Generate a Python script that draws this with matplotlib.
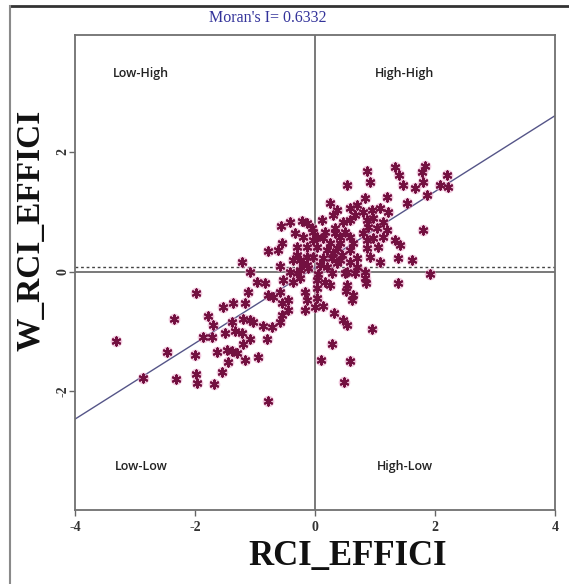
import matplotlib
matplotlib.use("Agg")
import matplotlib.pyplot as plt
from matplotlib.lines import Line2D

# ---- data ----
x_vals = [
    -3.32, -2.87, -2.35, -2.47, -2.32, -1.98, -1.78, -1.87, -1.72, -2.00, -1.98, -1.97, -1.68, -1.55,
    -1.70, -1.53, -1.37, -1.17, -1.38, -1.20, -1.50, -1.33, -1.22, -1.63, -1.47, -1.38, -1.30, -1.20,
    -1.17, -1.45, -1.12, -1.22,
    -1.08, -0.58, -1.08, -1.03, -0.87, -0.72, -1.08, -0.95, -0.80, -0.78, -0.97, -0.83, -0.78, -0.70,
    -0.58, -0.55, -0.45, -0.55, -0.45, -0.58, -0.17, -0.13, -0.17, -0.37, -0.25, -0.25, -0.12, -0.53,
    -0.42, -0.30,
    0.03, 0.17, 0.25, 0.53, 0.52, 0.63, 0.62, 0.03, 0.03, 0.00, 0.13, 0.32, 0.47, 0.53, 0.95, 0.28,
    0.10, 0.58, 0.48, 0.83, 0.85, 1.38, 1.92, 0.28, 0.50, 0.67, 0.05,
    -0.78, -0.62, -0.55, -0.57, -0.42, -0.22, -0.33, -0.30, -0.13, -0.05, -0.25, -0.13, -0.30, -0.37,
    -0.20, -0.13, -0.20, -0.03, -0.13, -0.03,
    0.87, 1.33, 1.83, 1.78, 0.92, 1.40, 1.47, 1.80, 1.67, 1.87, 2.20, 2.08, 2.22, 0.53, 0.83, 1.20,
    1.53, 0.25, 0.37, 0.58, 0.70, 0.67, 0.80, 0.95, 1.08, 1.22, 0.58, 0.87, 0.97, 1.13, 0.88, 1.03,
    1.20, 1.80, 0.47, 0.50, 0.12, 0.33, 0.42, 0.58, 0.63, 0.80, 0.87, 0.97, 1.13, 1.33, 1.42, 1.05,
    0.92, 1.08, 1.38, 1.62, 0.03, 0.13, 0.25, 0.03, 0.20, 0.37, 0.45, 0.28, 0.13, 0.08, 0.20, 0.37,
    0.58, 0.70, 0.53, 0.30, -0.03, 0.17, 0.33, 0.87, 0.30, 0.58, 0.42, 0.70, 0.83, 0.42,
]
y_vals = [
    -1.16, -1.78, -0.79, -1.34, -1.79, -0.36, -0.74, -1.09, -1.09, -1.39, -1.71, -1.86, -1.88, -1.68,
    -0.89, -0.59, -0.53, -0.53, -0.84, -0.79, -1.03, -0.99, -1.03, -1.34, -1.31, -1.33, -1.36, -1.21,
    -1.48, -1.51, -0.34, 0.16,
    -0.01, 0.09, -0.81, -0.84, -0.91, -0.93, -1.13, -1.43, -1.13, -2.16, -0.18, -0.19, -0.39, -0.43,
    -0.34, -0.53, -0.48, -0.73, -0.64, -0.84, -0.34, -0.48, -0.64, -0.18, -0.11, 0.03, 0.06, -0.14,
    -0.01, -0.03,
    -0.14, -0.18, -0.23, -0.23, -0.33, -0.39, -0.48, -0.28, -0.44, -0.59, -0.58, -0.69, -0.81, -0.89,
    -0.96, -1.21, -1.48, -1.49, -1.84, -0.11, -0.19, -0.19, -0.04, -0.03, -0.03, -0.03, -0.04,
    0.34, 0.36, 0.48, 0.76, 0.83, 0.84, 0.64, 0.41, 0.41, 0.73, 0.19, 0.24, 0.28, 0.19,
    0.14, 0.81, 0.58, 0.24, 0.11, 0.53,
    1.68, 1.74, 1.76, 1.66, 1.49, 1.61, 1.44, 1.49, 1.39, 1.28, 1.61, 1.44, 1.41, 1.44, 1.23, 1.24,
    1.14, 1.14, 1.03, 1.06, 1.11, 0.94, 0.99, 1.03, 1.06, 0.99, 0.86, 0.86, 0.89, 0.83, 0.74, 0.73,
    0.69, 0.69, 0.83, 0.66, 0.86, 0.73, 0.58, 0.58, 0.48, 0.64, 0.53, 0.56, 0.58, 0.53, 0.44, 0.41,
    0.24, 0.16, 0.23, 0.19, 0.58, 0.56, 0.48, 0.41, 0.36, 0.39, 0.28, 0.23, 0.23, 0.11, 0.08, 0.14,
    0.16, 0.08, -0.01, 0.94, 0.66, 0.66, 0.64, 0.39, 0.31, 0.36, 0.19, 0.23, -0.01, 0.48,
]
moran_i = 0.6332
intercept = 0.07
mean_lag = 0.07
x_ticks = [-4, -2, 0, 2, 4]
y_ticks = [-2, 0, 2]
quadrants = [("Low-High", -2.9, 3.3), ("High-High", 1.5, 3.3),
             ("Low-Low", -2.9, -3.25), ("High-Low", 1.5, -3.25)]

# ---- figure ----
W, H = 569, 584
fig = plt.figure(figsize=(W / 100, H / 100), dpi=100)
fig.patch.set_facecolor("white")

# outer frame (screenshot border)
fig.add_artist(Line2D([10 / W, 1.0], [1 - 6 / H, 1 - 6 / H], color="#333333", lw=2.0))
fig.add_artist(Line2D([10 / W, 10 / W], [0, 1 - 6 / H], color="#8a8a8a", lw=1.5))

ax = fig.add_axes([75 / W, 1 - 510 / H, 480 / W, 475 / H])
ax.set_xlim(-4, 4)
ax.set_ylim(-3.98, 3.95)

for s in ax.spines.values():
    s.set_color("#707070")
    s.set_linewidth(1.3)

ax.axvline(0, color="#555555", lw=1.1, zorder=1)
ax.axhline(0, color="#555555", lw=1.1, zorder=1)
ax.axhline(mean_lag, color="#444444", lw=1.0, ls=(0, (2, 2)), zorder=1)

xs = [-4, 4]
ax.plot(xs, [intercept + moran_i * v for v in xs], color="#555588", lw=1.0, zorder=2)

ax.scatter(x_vals, y_vals, s=70, marker="o", color="#e8a6c8", alpha=0.6,
           linewidths=0, zorder=3)
ax.scatter(x_vals, y_vals, s=34, marker=(6, 2, 0), color="#731040",
           linewidths=1.5, zorder=4)

for lab, qx, qy in quadrants:
    ax.text(qx, qy, lab, fontsize=9, fontfamily="Open Sans", fontweight="semibold",
            color="#222222", ha="center", va="center")

ax.set_xticks(x_ticks)
ax.set_yticks(y_ticks)
ax.set_xticklabels([str(v) for v in x_ticks], fontfamily="Liberation Serif",
                   fontsize=10, fontweight="bold", color="#333333")
ax.set_yticklabels([str(v) for v in y_ticks], fontfamily="Liberation Serif",
                   fontsize=10, fontweight="bold", color="#333333", rotation=90, va="center")
ax.tick_params(axis="both", direction="out", length=4, width=1.0, color="#666666")
ax.tick_params(axis="x", pad=4)
ax.tick_params(axis="y", pad=0)

fig.text(268 / W, 1 - 18 / H, "Moran's I= 0.6332", fontfamily="Liberation Serif",
         fontsize=11.5, color="#33339a", ha="center", va="center")
fig.text(348 / W, 1 - 556 / H, "RCI_EFFICI", fontfamily="Liberation Serif",
         fontsize=25, fontweight="bold", color="#111111", ha="center", va="center")
fig.text(31 / W, 1 - 230 / H, "W_RCI_EFFICI", fontfamily="Liberation Serif",
         fontsize=24, fontweight="bold", color="#111111", ha="center", va="center",
         rotation=90)

fig.savefig("out.png", dpi=100, facecolor="white")
